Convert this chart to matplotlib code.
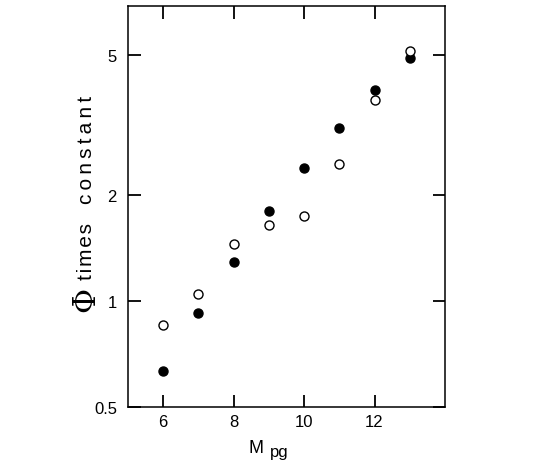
import matplotlib.pyplot as plt
from matplotlib.ticker import FixedLocator, FixedFormatter, NullLocator

plt.rcParams['font.family'] = ['Liberation Sans', 'DejaVu Sans']

# Magnitudes M_pg
mags = [6, 7, 8, 9, 10, 11, 12, 13]
# filled circles
phi_filled = [0.634, 0.925, 1.29, 1.80, 2.39, 3.11, 3.97, 4.91]
# open circles
phi_open = [0.854, 1.047, 1.45, 1.65, 1.75, 2.45, 3.72, 5.14]

x_ticks = [6, 8, 10, 12]
y_ticks = [0.5, 1, 2, 5]
y_tick_labels = ['0.5', '1', '2', '5']

W, H = 560, 477
fig = plt.figure(figsize=(W / 100, H / 100), dpi=100)
ax = fig.add_axes([0.2286, 0.1447, 0.566, 0.8406])

ax.plot(mags, phi_filled, 'o', color='black', markersize=6.5, linestyle='none')
ax.plot(mags, phi_open, 'o', markerfacecolor='white', markeredgecolor='black',
        markeredgewidth=1.0, markersize=6.5, linestyle='none')

ax.set_yscale('log')
ax.set_xlim(5, 14)
ax.set_ylim(0.5, 6.9)

ax.xaxis.set_major_locator(FixedLocator(x_ticks))
ax.yaxis.set_major_locator(FixedLocator(y_ticks))
ax.yaxis.set_major_formatter(FixedFormatter(y_tick_labels))
ax.yaxis.set_minor_locator(NullLocator())

ax.tick_params(axis='both', which='major', direction='in', length=9, width=1.3,
               top=True, right=True, labelsize=12, color='black')
ax.tick_params(axis='x', pad=5)
ax.tick_params(axis='y', pad=8)

for s in ax.spines.values():
    s.set_linewidth(1.1)

# x label: M with lowered "pg"
fig.text(248 / W, 1 - 453 / H, 'M', fontsize=13, ha='left', va='baseline')
fig.text(270 / W, 1 - 457 / H, 'pg', fontsize=12, ha='left', va='baseline')

# y label: large Phi, then letter-spaced "times constant"
fig.text(86 / W, 1 - 299 / H, 'Φ', fontsize=22, family='DejaVu Serif',
         rotation=90, ha='center', va='center')
fig.text(86 / W, 1 - 252 / H, '\u200a'.join('times'), fontsize=15,
         rotation=90, ha='center', va='center')
fig.text(86 / W, 1 - 150 / H, '\u2009'.join('constant'), fontsize=15,
         rotation=90, ha='center', va='center')

plt.savefig('out.png', dpi=100)
